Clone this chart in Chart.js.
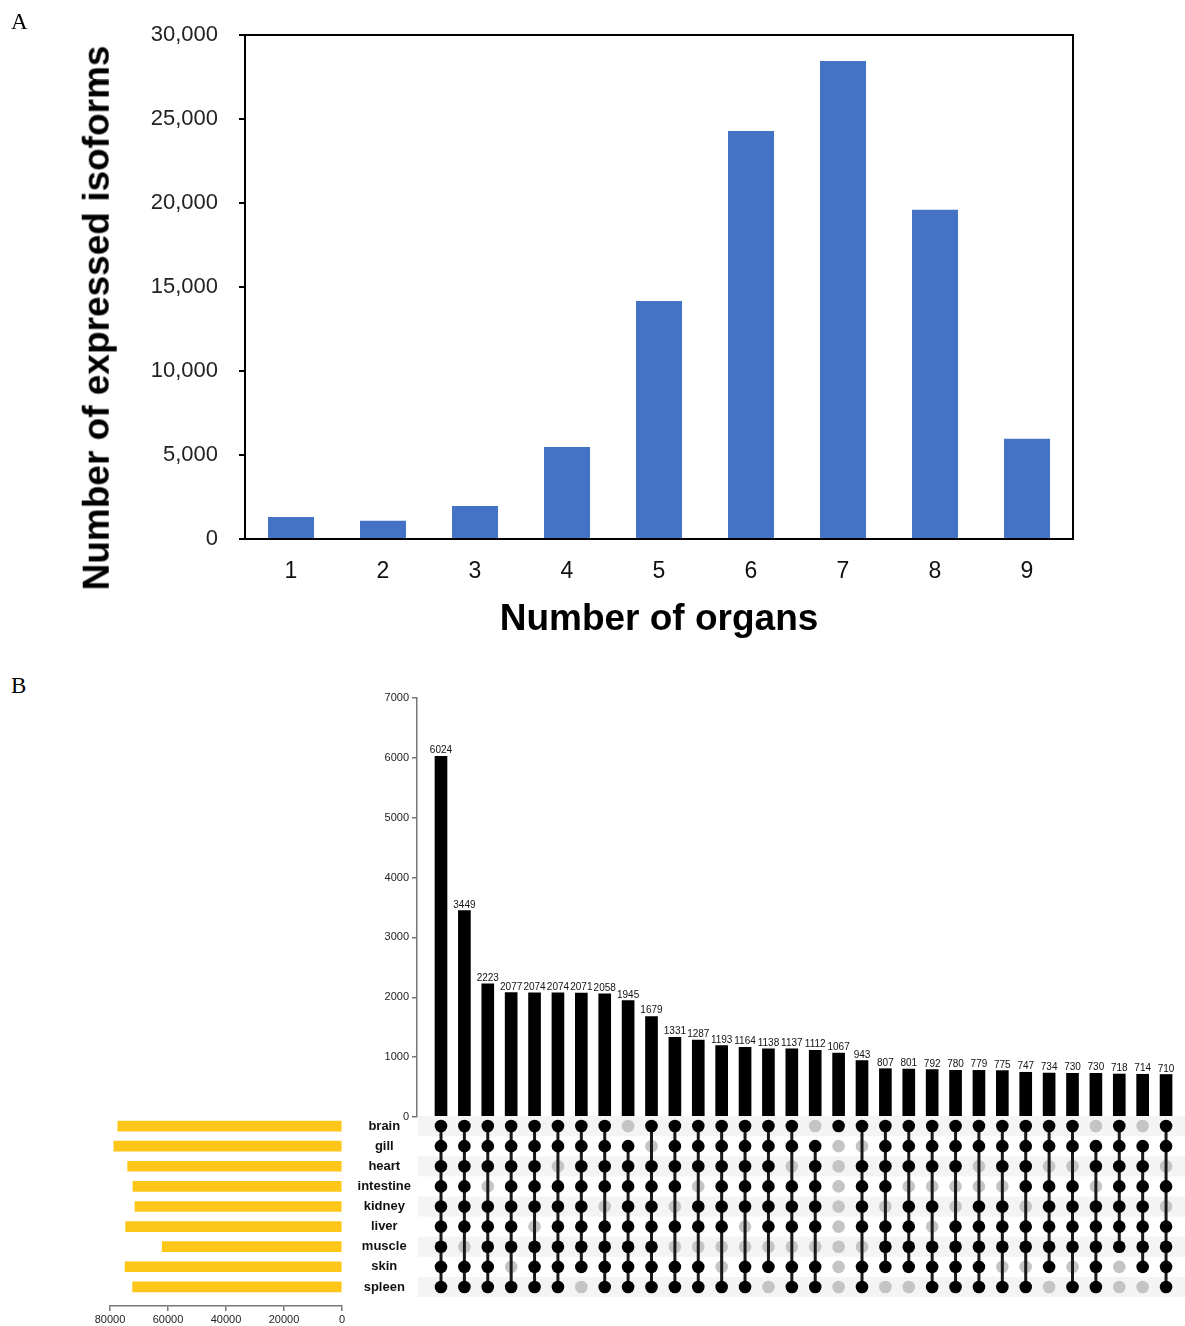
<!DOCTYPE html>
<html>
<head>
<meta charset="utf-8">
<script src="https://cdn.jsdelivr.net/npm/chart.js@4.4.1/dist/chart.umd.min.js"></script>
<style>
  body { margin: 0; background: #fff; width: 1185px; height: 1326px; position: relative; overflow: hidden; font-family: "Liberation Sans", Arial, sans-serif; }
  canvas { position: absolute; }
  .panel { position: absolute; font-family: "Liberation Serif", "Times New Roman", serif; font-size: 23px; line-height: 1; }
  #yTitleA { position: absolute; left: 97px; top: 318px; font-weight: bold; font-size: 37px; line-height: 1.15; white-space: nowrap; transform: translate(-50%, -50%) rotate(-90deg); }
</style>
</head>
<body>
<canvas id="organCount" width="1110" height="650" style="left:0;top:0"></canvas>
<canvas id="intersections" width="835" height="450" style="left:350px;top:680px"></canvas>
<canvas id="matrix" width="835" height="195" style="left:350px;top:1110px"></canvas>
<canvas id="setSizes" width="280" height="216" style="left:80px;top:1110px"></canvas>
<div class="panel" style="left:11px;top:10px">A</div>
<div class="panel" style="left:11px;top:674px">B</div>
<div id="yTitleA">Number of expressed isoforms</div>

<script>
// panel A: isoforms by number of organs they are expressed in
const organCounts = ["1", "2", "3", "4", "5", "6", "7", "8", "9"];
const isoformCounts = [1310, 1080, 1970, 5480, 14170, 24280, 28450, 19600, 5960];

// panel B: organs, their set sizes and the 32 largest intersections
const organs = ["brain", "gill", "heart", "intestine", "kidney", "liver", "muscle", "skin", "spleen"];
const setSizes = [77300, 78700, 73900, 72100, 71400, 74600, 62000, 74800, 72200];
const intersectionCounts = [6024, 3449, 2223, 2077, 2074, 2074, 2071, 2058, 1945, 1679, 1331, 1287,
  1193, 1164, 1138, 1137, 1112, 1067, 943, 807, 801, 792, 780, 779, 775, 747, 734, 730, 730, 718, 714, 710];
// one string per intersection, one digit per organ (same order as organs)
const intersectionSets = ["111111111", "111111011", "111011111", "111111101", "111110111", "110111111",
  "111111110", "111101111", "011111111", "101111111", "111101011", "111011011", "111111001", "111110011",
  "111111010", "110111011", "011111011", "100000000", "101111011", "111101110", "111011110", "111010111",
  "111001111", "110011111", "111011101", "111101101", "110111110", "110111101", "011011111", "111111100",
  "011111110", "110101111"];

Chart.defaults.font.family = '"Liberation Sans", Arial, sans-serif';
Chart.defaults.animation = false;
Chart.defaults.responsive = false;
Chart.defaults.events = [];
Chart.defaults.layout.autoPadding = false;
Chart.defaults.plugins.legend.display = false;
Chart.defaults.plugins.tooltip.enabled = false;

// x range shared by the intersection bars and the dot matrix
const colMin = -1.026;
const colMax = 31.81;

const frame = {
  id: "frame",
  afterDatasetsDraw(chart) {
    const { ctx, chartArea: a } = chart;
    ctx.save();
    ctx.strokeStyle = "#000";
    ctx.lineWidth = 2;
    ctx.strokeRect(a.left, a.top, a.right - a.left, a.bottom - a.top);
    ctx.restore();
  }
};

const barLabels = {
  id: "barLabels",
  afterDatasetsDraw(chart) {
    const { ctx } = chart;
    ctx.save();
    ctx.font = '10px "Liberation Sans", Arial, sans-serif';
    ctx.fillStyle = "#111";
    ctx.textAlign = "center";
    ctx.textBaseline = "alphabetic";
    chart.getDatasetMeta(0).data.forEach((bar, i) => {
      ctx.fillText(String(intersectionCounts[i]), bar.x, bar.y - 3);
    });
    ctx.restore();
  }
};

const stripes = {
  id: "stripes",
  beforeDatasetsDraw(chart) {
    const { ctx, chartArea: a, scales: { y } } = chart;
    ctx.save();
    ctx.fillStyle = "#f4f4f4";
    organs.forEach((o, i) => {
      if (i % 2) return;
      const y1 = y.getPixelForValue(i - 0.5);
      const y2 = y.getPixelForValue(i + 0.5);
      ctx.fillRect(a.left + 1, Math.min(y1, y2), a.right - a.left, Math.abs(y2 - y1));
    });
    ctx.restore();
  }
};

// A
new Chart(document.getElementById("organCount"), {
  type: "bar",
  data: {
    labels: organCounts,
    datasets: [{ data: isoformCounts, backgroundColor: "#4472C4", barPercentage: 0.5, categoryPercentage: 1 }]
  },
  options: {
    layout: { padding: { left: 0, top: 35, right: 37, bottom: 0 } },
    scales: {
      x: {
        grid: { display: false },
        border: { display: false },
        ticks: { font: { size: 23 }, color: "#111", padding: 11 },
        title: { display: true, text: "Number of organs", color: "#000", font: { size: 37, weight: "bold" }, padding: { top: 0, bottom: 8 } },
        afterFit: s => { s.height = 111; }
      },
      y: {
        min: 0,
        max: 30000,
        ticks: { stepSize: 5000, font: { size: 22 }, color: "#222", padding: 21, callback: v => v.toLocaleString("en-US") },
        grid: { drawOnChartArea: false, tickLength: 6, color: "#000", lineWidth: 2 },
        border: { color: "#000", width: 2 },
        afterFit: s => { s.width = 245; }
      }
    }
  },
  plugins: [frame]
});

// B: intersection sizes
new Chart(document.getElementById("intersections"), {
  type: "bar",
  data: {
    datasets: [{
      data: intersectionCounts.map((v, i) => ({ x: i, y: v })),
      backgroundColor: "#000",
      barThickness: 12
    }]
  },
  options: {
    layout: { padding: { left: 0, top: 18, right: 0, bottom: 13 } },
    scales: {
      x: { type: "linear", min: colMin, max: colMax, offset: false, display: false },
      y: {
        min: 0,
        max: 7000,
        ticks: { stepSize: 1000, font: { size: 11 }, color: "#222", padding: 3, callback: v => String(v) },
        grid: { drawOnChartArea: false, tickLength: 5, color: "#777", lineWidth: 1.5 },
        border: { color: "#777", width: 1.5 },
        afterFit: s => { s.width = 67; }
      }
    }
  },
  plugins: [barLabels]
});

// B: membership matrix
const onDots = [];
const offDots = [];
intersectionSets.forEach((code, c) => {
  [...code].forEach((bit, r) => (bit === "1" ? onDots : offDots).push({ x: c, y: r }));
});
const links = intersectionSets.map((code, c) => {
  const rows = [...code].map((bit, r) => (bit === "1" ? r : -1)).filter(r => r >= 0);
  return {
    data: [{ x: c, y: rows[0] }, { x: c, y: rows[rows.length - 1] }],
    showLine: true,
    borderColor: "#1a1a1a",
    borderWidth: 3,
    pointRadius: 0,
    order: 2
  };
});

new Chart(document.getElementById("matrix"), {
  type: "scatter",
  data: {
    datasets: [
      { data: onDots, pointRadius: 6.3, backgroundColor: "#000", borderWidth: 0, order: 1 },
      ...links,
      { data: offDots, pointRadius: 6.3, backgroundColor: "#c4c4c4", borderWidth: 0, order: 3 }
    ]
  },
  options: {
    layout: { padding: { left: 0, top: 6, right: 0, bottom: 8 } },
    scales: {
      x: { type: "linear", min: colMin, max: colMax, display: false },
      y: {
        type: "linear",
        reverse: true,
        min: -0.5,
        max: 8.5,
        grid: { display: false },
        border: { display: false },
        afterBuildTicks: s => { s.ticks = organs.map((o, i) => ({ value: i })); },
        ticks: {
          crossAlign: "center",
          padding: -2,
          color: "#111",
          font: { size: 13, weight: "bold" },
          callback: v => organs[v]
        },
        afterFit: s => { s.width = 67; }
      }
    }
  },
  plugins: [stripes]
});

// B: set sizes
new Chart(document.getElementById("setSizes"), {
  type: "bar",
  data: {
    datasets: [{
      data: setSizes.map((v, i) => ({ x: v, y: i })),
      backgroundColor: "#FFC61A",
      barThickness: 10
    }]
  },
  options: {
    indexAxis: "y",
    layout: { padding: { left: 30, top: 6, right: 18, bottom: 0 } },
    scales: {
      x: {
        type: "linear",
        reverse: true,
        min: 0,
        max: 80000,
        ticks: { stepSize: 20000, font: { size: 11 }, color: "#222", padding: 2, maxRotation: 0, callback: v => String(v) },
        grid: { drawOnChartArea: false, tickLength: 5, color: "#777", lineWidth: 1.5 },
        border: { color: "#777", width: 1.5 },
        afterFit: s => { s.height = 20; }
      },
      y: { type: "linear", reverse: true, min: -0.5, max: 8.95, offset: false, display: false }
    }
  }
});
</script>
</body>
</html>
